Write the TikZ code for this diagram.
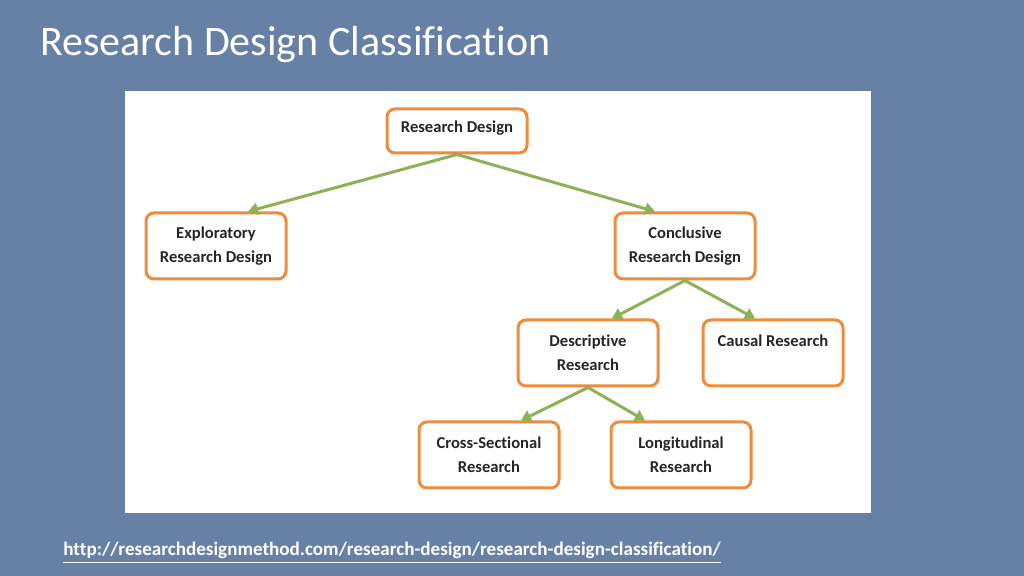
\documentclass[tikz,border=0pt]{standalone}
\usepackage{fontspec}
\setmainfont[Ligatures=NoCommon]{Carlito}
\usetikzlibrary{arrows.meta}
\definecolor{slide}{HTML}{6680A6}
\definecolor{boxline}{HTML}{F08A3C}
\definecolor{arrowgreen}{HTML}{8DB255}
\definecolor{boxtext}{HTML}{262626}
\tikzset{
  box/.style={draw=boxline, line width=1.5pt, rounded corners=4pt, fill=white,
    minimum width=70pt, minimum height=33pt, align=center, text=boxtext,
    font=\bfseries\fontsize{8.3}{12}\selectfont, inner sep=2pt},
  topbox/.style={box, minimum height=22pt, text depth=4pt},
  link/.style={draw=arrowgreen, line width=1.5pt, -{Triangle[length=5pt,width=6pt]}}
}
\begin{document}
\begin{tikzpicture}[x=0.5pt, y=-0.5pt]
            % slide is 1024 x 576, y goes down
            \fill[slide] (0,0) rectangle (1024,576);
            \useasboundingbox (0,0) rectangle (1024,576);
            \node[anchor=base west, text=white, font=\fontsize{21}{25}\selectfont, inner sep=0pt] (title) at (40,56) {Research Design Classification};
            \fill[white] (125,91) rectangle (871,513);
            \node[topbox] (rd) at (457,131) {Research Design};
            \node[box] (expl) at (216,246) {Exploratory\\Research Design};
            \node[box] (concl) at (685,246) {Conclusive\\Research Design};
            \node[box] (descr) at (588,353) {Descriptive\\Research};
            \node[box] (causal) at (773,353) {Causal Research\\~};
            \node[box] (cross) at (489,455) {Cross-Sectional\\Research};
            \node[box] (longi) at (681,455) {Longitudinal\\Research};
            % shifts are in pt, half a pixel each
            \draw[link] (rd.south) -- ([xshift=16pt]expl.north);
            \draw[link] (rd.south) -- ([xshift=-15pt]concl.north);
            \draw[link] (concl.south) -- ([xshift=12pt]descr.north);
            \draw[link] (concl.south) -- ([xshift=-9pt]causal.north);
            \draw[link] (descr.south) -- ([xshift=16pt]cross.north);
            \draw[link] (descr.south) -- ([xshift=-18pt]longi.north);
            \node[anchor=base west, text=white, font=\bfseries\fontsize{9.55}{11}\selectfont, inner sep=0pt] (url) at (63,556) {\underline{http://researchdesignmethod.com/research-design/research-design-classification/}};
\end{tikzpicture}
\end{document}
